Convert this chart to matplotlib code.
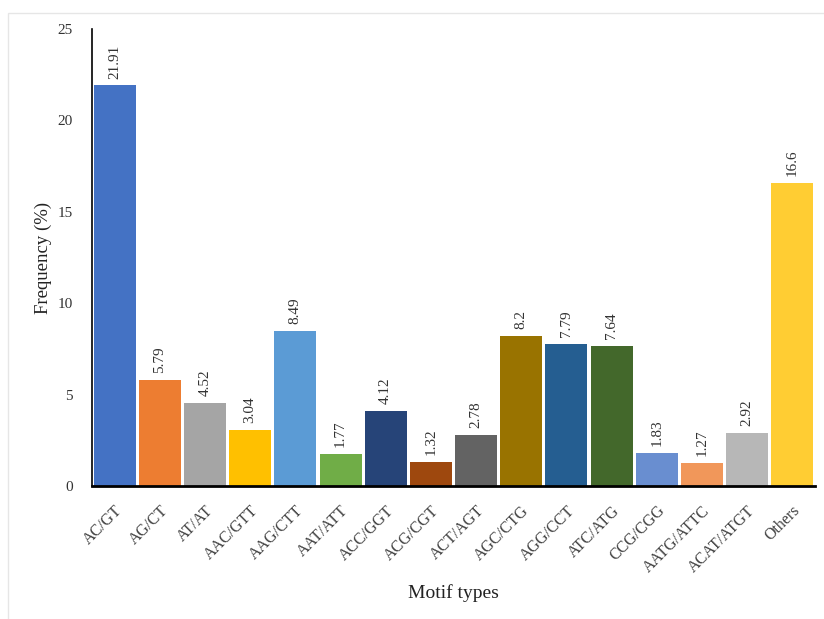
import matplotlib
matplotlib.use("Agg")
import matplotlib.pyplot as plt
from matplotlib.patches import Rectangle

categories = ["AC/GT", "AG/CT", "AT/AT", "AAC/GTT", "AAG/CTT", "AAT/ATT", "ACC/GGT",
              "ACG/CGT", "ACT/AGT", "AGC/CTG", "AGG/CCT", "ATC/ATG", "CCG/CGG",
              "AATG/ATTC", "ACAT/ATGT", "Others"]
values = [21.91, 5.79, 4.52, 3.04, 8.49, 1.77, 4.12, 1.32, 2.78, 8.2, 7.79, 7.64,
          1.83, 1.27, 2.92, 16.6]
value_labels = ["21.91", "5.79", "4.52", "3.04", "8.49", "1.77", "4.12", "1.32", "2.78",
                "8.2", "7.79", "7.64", "1.83", "1.27", "2.92", "16.6"]
colors = ["#4472C4", "#ED7D31", "#A5A5A5", "#FFC000", "#5B9BD5", "#70AD47", "#264478",
          "#9E480E", "#636363", "#997300", "#255E91", "#43682B", "#698ED0", "#F1975A",
          "#B7B7B7", "#FFCD33"]
yticks = [0, 5, 10, 15, 20, 25]

plt.rcParams["font.family"] = ["Liberation Serif", "DejaVu Serif"]

fig = plt.figure(figsize=(8.24, 6.19), dpi=100)
fig.patches.append(Rectangle((8/824, -0.1), 1.2, (619-13)/619 + 0.1, transform=fig.transFigure,
                             fill=False, edgecolor="#E6E6E6", linewidth=1.0))
ax = fig.add_axes([92/824, 1-486/619, (815-92)/824, (486-29)/619])

x = list(range(len(categories)))
ax.bar(x, values, width=0.93, color=colors, zorder=2)
for xi, v, lab in zip(x, values, value_labels):
    ax.annotate(lab, (xi, v), xytext=(0, 5), textcoords="offset points",
                rotation=90, ha="center", va="bottom", fontsize=11, color="#333333")

ax.set_xlim(-0.5, len(categories) - 0.5)
ax.set_ylim(0, 25)
ax.set_yticks(yticks)
ax.set_xticks(x)
ax.set_xticklabels(categories, rotation=45, ha="right", rotation_mode="anchor", fontsize=11.5,
                   color="#404040")
ax.tick_params(axis="y", length=0, labelsize=11, labelcolor="#333333", pad=14)
ax.tick_params(axis="x", length=0, pad=12)

for s in ["top", "right"]:
    ax.spines[s].set_visible(False)
ax.spines["left"].set_color("black")
ax.spines["left"].set_linewidth(1.2)
ax.spines["bottom"].set_color("black")
ax.spines["bottom"].set_linewidth(2.0)

ax.set_ylabel("Frequency (%)", fontsize=13.5, color="#222222", labelpad=4)
ax.set_xlabel("Motif types", fontsize=14, color="#222222", labelpad=6)

fig.savefig("out.png", dpi=100)
